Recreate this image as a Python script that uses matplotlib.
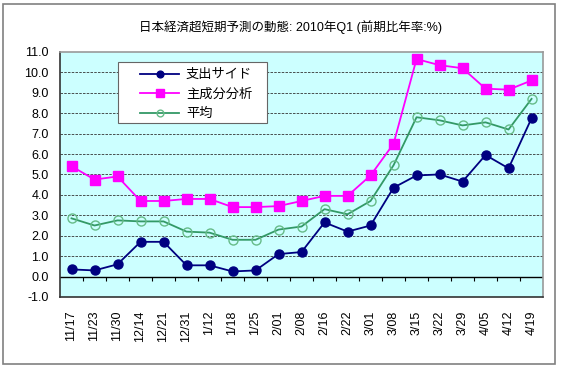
import numpy as np
import matplotlib
matplotlib.use("Agg")
import matplotlib.pyplot as plt
from matplotlib.patches import Rectangle

plt.rcParams['font.family'] = ['Liberation Sans', 'Noto Sans CJK JP', 'DejaVu Sans']

# データ
dates = ["11/17", "11/23", "11/30", "12/14", "12/21", "12/31", "1/12", "1/18", "1/25",
         "2/01", "2/08", "2/16", "2/22", "3/01", "3/08", "3/15", "3/22", "3/29",
         "4/05", "4/12", "4/19"]
spending = [0.35, 0.3, 0.6, 1.7, 1.7, 0.55, 0.55, 0.25, 0.3, 1.1, 1.2, 2.65, 2.2,
            2.5, 4.35, 4.95, 5.0, 4.65, 5.95, 5.3, 7.75]
pca = [5.4, 4.75, 4.9, 3.7, 3.7, 3.8, 3.8, 3.4, 3.4, 3.45, 3.7, 3.95, 3.95,
       4.95, 6.5, 10.65, 10.35, 10.2, 9.2, 9.15, 9.6]
average = [2.85, 2.5, 2.75, 2.7, 2.7, 2.2, 2.15, 1.8, 1.8, 2.3, 2.45, 3.3, 3.05,
           3.7, 5.45, 7.8, 7.65, 7.4, 7.55, 7.2, 8.7]
yticks = np.arange(-1, 12, 1)

fig = plt.figure(figsize=(5.61, 3.68), dpi=100)
# 外枠
fig.patches.append(Rectangle((0.006, 0.012), 0.984, 0.978, transform=fig.transFigure,
                             fill=False, edgecolor="#808080", linewidth=1.2))
ax = fig.add_axes([0.107, 0.193, 0.861, 0.666])
ax.set_facecolor("#CCFFFF")

x = np.arange(len(dates))
ax.plot(x, spending, color="#000080", marker="o", markersize=6.5, linewidth=1.3, label="支出サイド")
ax.plot(x, pca, color="#FF00FF", marker="s", markersize=7, linewidth=1.3, label="主成分分析")
ax.plot(x, average, color="#339966", marker="o", markersize=6.5, markerfacecolor="none",
        markeredgecolor="#66BB88", linewidth=1.3, label="平均")

ax.set_xlim(-0.5, len(dates) - 0.5)
ax.set_ylim(-1, 11)
ax.set_yticks(yticks)
ax.set_yticklabels(["%.1f" % v for v in yticks], fontsize=9)
ax.tick_params(axis='y', length=0, pad=8)

ax.set_xticks(x)
ax.set_xticklabels(dates, rotation=90, fontsize=9)
ax.tick_params(axis='x', length=0, pad=10)

# グリッド
for v in yticks[2:-1]:
    ax.axhline(v, color="#333333", linestyle=(0, (3, 1.5)), linewidth=0.6, zorder=0)
ax.axhline(0, color="black", linewidth=1.0, zorder=1)
ax.vlines(x[:-1] + 0.5, -0.2, 0, color="black", linewidth=0.8)

for s in ax.spines.values():
    s.set_color("#999999")
    s.set_linewidth(1.2)
ax.spines['left'].set_color("#333333")
ax.spines['bottom'].set_color("#333333")

fig.text(0.517, 0.915, "日本経済超短期予測の動態: 2010年Q1 (前期比年率:%)", ha="center",
         fontsize=9)

# 凡例 (枠は別に描く)
ax.add_patch(Rectangle((0.12, 0.71), 0.308, 0.249, transform=ax.transAxes, facecolor="white",
                       edgecolor="#666666", linewidth=0.8, zorder=4))
leg = ax.legend(loc="upper left", bbox_to_anchor=(0.165, 0.93), fontsize=9.5, frameon=False,
                handlelength=3.0, borderpad=0, labelspacing=0.55, markerscale=0.75,
                handletextpad=0.5, borderaxespad=0)
leg.set_zorder(5)

fig.savefig("out.png", dpi=100)
